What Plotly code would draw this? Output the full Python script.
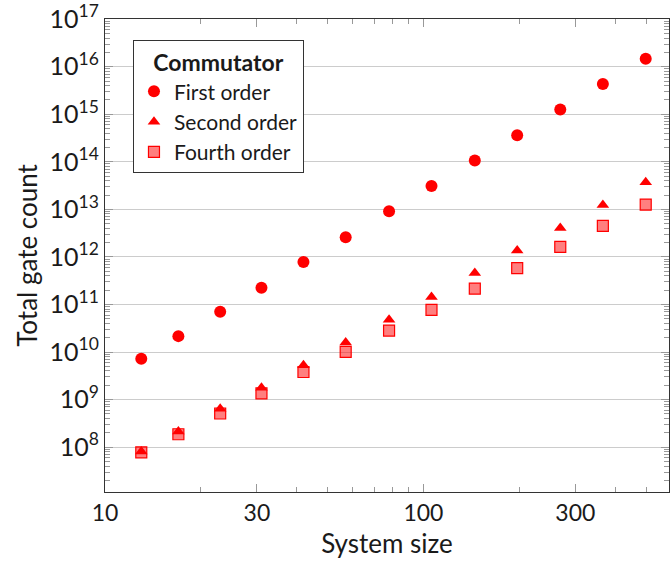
import plotly.graph_objects as go

# Gate counts versus system size for three commutator-bound orders
system_size = [13, 17, 23, 31, 42, 57, 78, 106, 145, 197, 269, 366, 499]
first_order = [7.2e9, 2.16e10, 7.0e10, 2.25e11, 7.8e11, 2.6e12, 9.1e12,
               3.1e13, 1.07e14, 3.63e14, 1.26e15, 4.34e15, 1.47e16]
second_order = [8.1e7, 2.13e8, 6.4e8, 1.78e9, 5.3e9, 1.59e10, 4.8e10,
                1.44e11, 4.59e11, 1.37e12, 4.08e12, 1.24e13, 3.7e13]
fourth_order = [7.8e7, 1.87e8, 5.1e8, 1.35e9, 3.8e9, 1.01e10, 2.83e10,
                7.7e10, 2.15e11, 5.8e11, 1.63e12, 4.5e12, 1.26e13]

x_ticks = [10, 30, 100, 300]
y_exponents = list(range(8, 18))

# Minor tick positions at 2..9 within each decade
x_minor = [k * 10 ** e for e in (1, 2) for k in range(2, 10)]
y_minor = [k * 10 ** e for e in range(7, 17) for k in range(2, 10)]

X_RANGE = [1, 2.7712]
Y_RANGE = [7.057, 17.003]

FONT = "Lato"
RED = "#ff0000"
TEXT = "#1a1a1a"
TICK = "#999999"
LINE = "#333333"

fig = go.Figure()
fig.add_trace(go.Scatter(
    x=system_size, y=first_order, mode="markers", name="First order",
    marker=dict(symbol="circle", size=12, color=RED, line=dict(width=0)),
))
fig.add_trace(go.Scatter(
    x=system_size, y=second_order, mode="markers", name="Second order",
    marker=dict(symbol="triangle-up", size=11, color=RED, line=dict(width=0)),
))
fig.add_trace(go.Scatter(
    x=system_size, y=fourth_order, mode="markers", name="Fourth order",
    marker=dict(symbol="square", size=11, color="rgba(255,0,0,0.5)",
                line=dict(width=1.2, color=RED)),
))
# Empty trace that brings the overlaid minor-tick axes into existence
fig.add_trace(go.Scatter(x=[], y=[], xaxis="x2", yaxis="y2",
                         showlegend=False, hoverinfo="skip"))

fig.update_layout(
    width=670, height=562,
    margin=dict(l=105, r=0, t=17, b=70),
    paper_bgcolor="white", plot_bgcolor="white",
    font=dict(family=FONT, color=TEXT),
    showlegend=True,
    legend=dict(
        x=0.0496, y=0.955, xanchor="left", yanchor="top",
        bgcolor="white", bordercolor=LINE, borderwidth=1,
        font=dict(family=FONT, size=21, color=TEXT),
        title=dict(text="<b>Commutator</b>", side="top center",
                   font=dict(family=FONT, size=23, color=TEXT)),
        itemwidth=30,
    ),
    xaxis=dict(
        type="log", range=X_RANGE,
        tickmode="array", tickvals=x_ticks, ticktext=[str(v) for v in x_ticks],
        ticks="inside", ticklen=8, tickcolor=TICK, tickwidth=1,
        showgrid=False, zeroline=False,
        showline=True, linecolor=LINE, linewidth=1.2, mirror="allticks",
        tickfont=dict(family=FONT, size=23, color=TEXT),
        ticklabeloverflow="allow",
        title=dict(text="System size", font=dict(family=FONT, size=26, color=TEXT),
                   standoff=10),
    ),
    yaxis=dict(
        type="log", range=Y_RANGE,
        tickmode="array", tickvals=[10 ** e for e in y_exponents],
        ticktext=[f"10<sup>{e}</sup>" for e in y_exponents],
        ticks="inside", ticklen=8, tickcolor=TICK, tickwidth=1,
        showgrid=True, gridcolor="#cccccc", gridwidth=1.3, zeroline=False,
        showline=True, linecolor=LINE, linewidth=1.2, mirror="allticks",
        tickfont=dict(family=FONT, size=25, color=TEXT),
        ticklabeloverflow="allow",
        title=dict(text="Total gate count", font=dict(family=FONT, size=26, color=TEXT),
                   standoff=4),
    ),
    xaxis2=dict(
        type="log", range=X_RANGE, overlaying="x", anchor="y2", side="bottom",
        tickmode="array", tickvals=x_minor, showticklabels=False,
        ticks="inside", ticklen=5, tickcolor=TICK, tickwidth=1,
        showgrid=False, zeroline=False, showline=False, mirror="allticks",
    ),
    yaxis2=dict(
        type="log", range=Y_RANGE, overlaying="y", anchor="x2", side="left",
        tickmode="array", tickvals=y_minor, showticklabels=False,
        ticks="inside", ticklen=5, tickcolor=TICK, tickwidth=1,
        showgrid=False, zeroline=False, showline=False, mirror="allticks",
    ),
)

fig.write_html("out.html")
